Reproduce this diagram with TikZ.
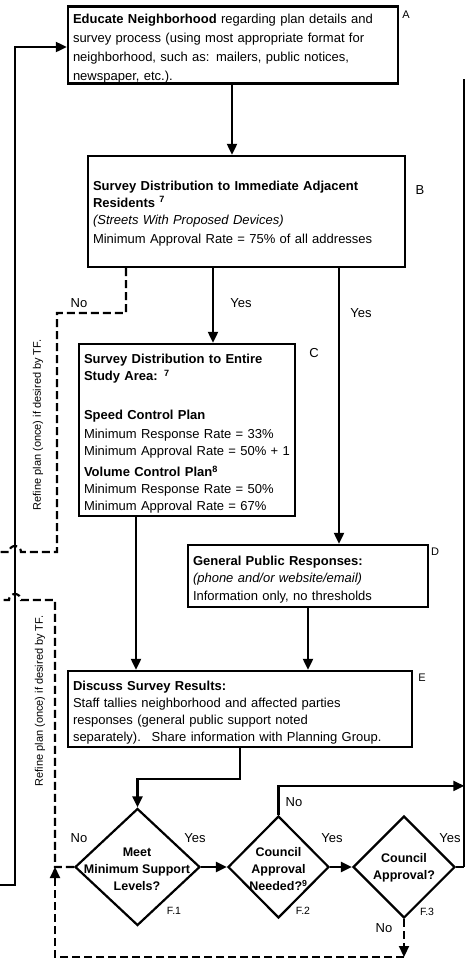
\documentclass[tikz,border=0pt]{standalone}
\usepackage{fontspec}
\setmainfont{Liberation Sans}
\usetikzlibrary{arrows.meta,shapes.geometric}

\begin{document}
\begin{tikzpicture}[x=1pt,y=-1pt,
  every node/.style={inner sep=0pt, font=\fontsize{13}{17}\selectfont},
  box/.style={draw, line width=2.4pt, inner xsep=5pt, inner ysep=0pt, align=left},
  dec/.style={draw, diamond, line width=2.2pt, inner sep=0pt},
  dectext/.style={align=center, font=\bfseries\fontsize{12.5}{17}\selectfont},
  flow/.style={line width=2.2pt, -{Triangle[length=11pt,width=10pt]}},
  link/.style={line width=2.2pt},
  back/.style={line width=2.2pt, dash pattern=on 8pt off 4pt},
  lbl/.style={font=\fontsize{13}{15}\selectfont},
  tag/.style={font=\fontsize{11}{13}\selectfont},
  bigtag/.style={font=\fontsize{13}{15}\selectfont},
  ftag/.style={font=\fontsize{10.5}{12}\selectfont},
  note/.style={font=\fontsize{11}{13}\selectfont, rotate=90},
]
\useasboundingbox (0,0) rectangle (465,959);

% process boxes (the leading struts push the text block a little lower)
\node[box, minimum width=330pt, minimum height=76pt, text width=320pt,
      font=\fontsize{13}{19}\selectfont] (A) at (233,45)
  {\rule{0pt}{17pt}\textbf{Educate Neighborhood} regarding plan details and\\
   survey process (using most appropriate format for\\
   neighborhood, such as: mailers, public notices,\\
   newspaper, etc.).};

\node[box, minimum width=317pt, minimum height=111pt, text width=307pt] (B) at (246.5,211.5)
  {\rule{0pt}{13pt}\textbf{Survey Distribution to Immediate Adjacent}\\
   \textbf{Residents \textsuperscript{7}}\\
   \textit{(Streets With Proposed Devices)}\\[2pt]
   Minimum Approval Rate = 75\% of all addresses};

\node[box, minimum width=216pt, minimum height=172pt, text width=206pt] (C) at (187,430)
  {\rule{0pt}{17pt}\textbf{Survey Distribution to Entire}\\
   \textbf{Study Area: \textsuperscript{7}}\\[22pt]
   \textbf{Speed Control Plan}\\[2pt]
   Minimum Response Rate = 33\%\\
   Minimum Approval Rate = 50\% + 1\\[4pt]
   \textbf{Volume Control Plan\textsuperscript{8}}\\
   Minimum Response Rate = 50\%\\
   Minimum Approval Rate = 67\%};

\node[box, minimum width=240pt, minimum height=62pt, text width=230pt] (D) at (308,576)
  {\rule{0pt}{17pt}\textbf{General Public Responses:}\\
   \textit{(phone and/or website/email)}\\[1pt]
   Information only, no thresholds};

\node[box, minimum width=344pt, minimum height=76pt, text width=334pt] (E) at (240,709)
  {\rule{0pt}{17pt}\textbf{Discuss Survey Results:}\\
   Staff tallies neighborhood and affected parties\\
   responses (general public support noted\\
   separately).~ Share information with Planning Group.};

% box tags
\node[tag] (tA) at (406,15) {A};
\node[bigtag] (tB) at (420,190) {B};
\node[bigtag] (tC) at (314,353) {C};
\node[tag] (tD) at (435,552) {D};
\node[tag] (tE) at (422,678) {E};

% decisions
\node[dec, minimum width=125pt, minimum height=117pt] (F1) at (137.5,867) {};
\node[dec, minimum width=101pt, minimum height=102pt] (F2) at (278.5,867) {};
\node[dec, minimum width=102pt, minimum height=102pt] (F3) at (404,867) {};
\node[dectext] (F1t) at (137,869) {Meet\\Minimum Support\\Levels?};
\node[dectext] (F2t) at (278.5,869) {Council\\Approval\\Needed?\textsuperscript{9}};
\node[dectext] (F3t) at (404,868) {Council\\Approval?};
\node[ftag] (tF1) at (174,911) {F.1};
\node[ftag] (tF2) at (303,911) {F.2};
\node[ftag] (tF3) at (427,912) {F.3};

% helper coordinates
\coordinate (xbc) at (213,0);
\coordinate (xbd) at (339,0);
\coordinate (xce) at (136,0);
\coordinate (xno) at (126,0);
\coordinate (R) at (464.3,79);
\coordinate (L) at (15,47);
\coordinate (Lin) at (0,885);
\coordinate (bot) at (55,957);

% main flow
\draw[flow] (A.south -| 232,0) -- (B.north -| 232,0);
\draw[flow] (B.south -| xbc) -- (C.north -| xbc);
\draw[flow] (B.south -| xbd) -- (D.north -| xbd);
\draw[flow] (C.south -| xce) -- (E.north -| xce);
\draw[flow] (D.south -| 308,0) -- (E.north -| 308,0);
\draw[flow] (E.south) -- ++(0,31) -| (F1.north);
\draw[flow] (F1.east) -- (F2.west);
\draw[flow] (F2.east) -- (F3.west);
\draw[flow] (F2.north) -- ++(0,-29) coordinate (f2up) -- (f2up -| R);
\draw[link] (F3.east) -- (F3.east -| R);
\draw[line width=2pt] (F3.east -| R) -- (R);
\draw[flow] (Lin) -- (Lin -| L) -- (L) -- (L -| A.west);

% loops back for refinement
\draw[back] (B.south -| xno) -- (126,313) -- (57,313) -- (57,552) -- (21,552)
  arc[start angle=0, end angle=180, radius=6pt] -- (0,552);
\draw[back] (F1.west) -- (F1.west -| bot) -- (55,600) -- (21,600)
  arc[start angle=0, end angle=180, radius=6pt] -- (0,600);
\draw[back, flow] (F3.south) -- (F3.south |- bot);
\draw[back, flow] (F3.south |- bot) -- (bot) -- (bot |- F1.west);

% connector labels
\node[lbl] (nB) at (79,303) {No};
\node[lbl] (yC) at (241,303) {Yes};
\node[lbl] (yD) at (361,313) {Yes};
\node[lbl] (n1) at (79,838) {No};
\node[lbl] (y1) at (195,838) {Yes};
\node[lbl] (y2) at (332,838) {Yes};
\node[lbl] (y3) at (450,838) {Yes};
\node[lbl] (n2) at (294,802) {No};
\node[lbl] (n3) at (384,928) {No};

\node[note] (r1) at (38,425) {Refine plan (once) if desired by TF.};
\node[note] (r2) at (40,701) {Refine plan (once) if desired by TF.};
\end{tikzpicture}
\end{document}
